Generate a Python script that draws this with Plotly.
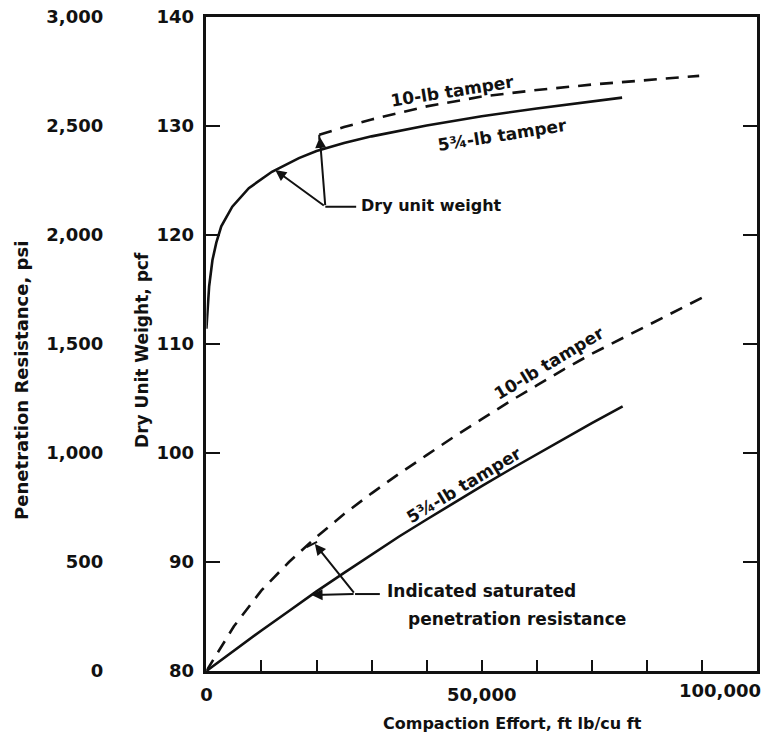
import plotly.graph_objects as go
import numpy as np

# ---- data ----
# Dry unit weight, pcf  (x = compaction effort, ft lb/cu ft)
duw_575_x = [0, 200, 500, 1100, 1800, 2700, 4700, 7700, 11900, 16800, 20000, 25000,
             30000, 40000, 50000, 60000, 70000, 75500]
duw_575_y = [111.4, 113.5, 115.3, 117.7, 119.3, 120.8, 122.6, 124.3, 125.8, 127.05, 127.7, 128.45,
             129.05, 130.05, 130.9, 131.6, 132.25, 132.6]
duw_10_x = [20500, 25000, 30000, 40000, 50000, 60000, 70000, 80000, 89500]
duw_10_y = [129.2, 129.9, 130.6, 131.8, 132.7, 133.3, 133.8, 134.2, 134.6]

# Indicated saturated penetration resistance, psi
pen_575_x = [0, 5000, 10000, 15000, 20000, 25000, 30000, 35000, 40000, 45000, 50000,
             55000, 60000, 65000, 70000, 75600]
pen_575_y = [0, 94, 186, 275, 365, 450, 535, 617, 695, 772, 848, 922, 995, 1067, 1137, 1214]
pen_10_x = [0, 5000, 10000, 15000, 20000, 25000, 30000, 35000, 40000, 45000, 50000,
            55000, 60000, 65000, 70000, 75000, 80000, 85000, 90000]
pen_10_y = [0, 205, 370, 500, 615, 720, 815, 905, 990, 1075, 1155, 1235, 1310, 1385,
            1455, 1520, 1585, 1650, 1712]

x_ticks = list(range(0, 100001, 10000))
x_ticktext = ["0", "", "", "", "", "50,000", "", "", "", "", ""]
x_last_label = "100,000"
pcf_ticks = [80, 90, 100, 110, 120, 130, 140]
psi_ticks = [0, 500, 1000, 1500, 2000, 2500, 3000]

FONT = "DejaVu Sans"
BLK = "#111111"

fig = go.Figure()
fig.add_trace(go.Scatter(x=duw_575_x, y=duw_575_y, mode="lines", yaxis="y",
                         line=dict(color=BLK, width=2.6), name="5 3/4-lb tamper (dry unit weight)"))
fig.add_trace(go.Scatter(x=duw_10_x, y=duw_10_y, mode="lines", yaxis="y",
                         line=dict(color=BLK, width=2.6, dash="13px,9px"), name="10-lb tamper (dry unit weight)"))
fig.add_trace(go.Scatter(x=pen_575_x, y=pen_575_y, mode="lines", yaxis="y2",
                         line=dict(color=BLK, width=2.6), name="5 3/4-lb tamper (penetration)"))
fig.add_trace(go.Scatter(x=pen_10_x, y=pen_10_y, mode="lines", yaxis="y2",
                         line=dict(color=BLK, width=2.6, dash="13px,9px"), name="10-lb tamper (penetration)"))

W, H = 768, 740
ml, mr, mt, mb = 0, 11, 17, 69
pw = W - ml - mr
x0_px = 202
dom0 = x0_px / pw

tickf = dict(size=18, family=FONT, weight="bold")
fig.update_layout(
    width=W, height=H, margin=dict(l=ml, r=mr, t=mt, b=mb),
    paper_bgcolor="white", plot_bgcolor="white", showlegend=False,
    font=dict(family=FONT, color=BLK, size=18, weight="bold"),
    xaxis=dict(domain=[dom0, 1], range=[0, 100000], tickvals=x_ticks, ticktext=x_ticktext,
               ticks="inside", ticklen=11, tickwidth=2, tickcolor=BLK,
               showline=True, linewidth=2.6, linecolor=BLK, mirror=True,
               showgrid=False, zeroline=False, ticklabelstandoff=6, tickfont=tickf),
    yaxis=dict(range=[80, 140], tickvals=pcf_ticks, ticks="inside", ticklen=14, tickwidth=2,
               tickcolor=BLK, showline=True, linewidth=2.6, linecolor=BLK, mirror="ticks",
               showgrid=False, zeroline=False, ticklabelstandoff=6, tickfont=tickf),
    yaxis2=dict(range=[0, 3000], tickvals=psi_ticks, tickformat=",", overlaying="y",
                anchor="free", position=98 / pw, side="left", ticks="", showline=False,
                showgrid=False, zeroline=False, tickfont=tickf),
)

def px_x(px):
    return (px - ml) / pw

def px_y(py):
    return (H - mb - py) / (H - mb - mt)

# last x tick label (kept inside the page, as in the reference)
fig.add_annotation(text=x_last_label, x=x_ticks[-1], xref="x", y=px_y(690), yref="paper",
                   xanchor="right", yanchor="middle", xshift=6, showarrow=False, font=tickf)

# axis titles
fig.add_annotation(text="Compaction Effort, ft lb/cu ft", xref="paper", yref="paper",
                   x=px_x(511), y=px_y(723), xanchor="center", yanchor="middle", showarrow=False,
                   font=dict(size=16, family=FONT, weight="bold"))
fig.add_annotation(text="Penetration Resistance, psi", xref="paper", yref="paper",
                   x=px_x(15), y=px_y(380), xanchor="center", yanchor="middle",
                   showarrow=False, textangle=-90,
                   font=dict(size=18, family=FONT, weight="bold"))
fig.add_annotation(text="Dry Unit Weight, pcf", xref="paper", yref="paper",
                   x=px_x(137), y=px_y(350), xanchor="center", yanchor="middle",
                   showarrow=False, textangle=-90,
                   font=dict(size=17, family=FONT, weight="bold"))

lab = dict(size=17, family=FONT, weight="bold")
# curve labels
fig.add_annotation(text="10-lb tamper", x=44700, y=133.2, xref="x", yref="y",
                   showarrow=False, textangle=-9, font=lab)
fig.add_annotation(text="5¾-lb tamper", x=53700, y=129.2, xref="x", yref="y",
                   showarrow=False, textangle=-9, font=lab)
fig.add_annotation(text="10-lb tamper", x=62300, y=1411, xref="x", yref="y2",
                   showarrow=False, textangle=-31, font=lab)
fig.add_annotation(text="5¾-lb tamper", x=46800, y=852, xref="x", yref="y2",
                   showarrow=False, textangle=-31, font=lab)

# Dry unit weight callout
jx, jy = 21600, 122.6
fig.add_annotation(text="Dry unit weight", x=27700, y=122.7, xref="x", yref="y",
                   xanchor="left", showarrow=False, font=dict(size=16, family=FONT, weight="bold"))
fig.add_shape(type="line", xref="x", yref="y", x0=jx, y0=jy, x1=27200, y1=jy,
              line=dict(color=BLK, width=2))
tip1_x = 12500
tip1_y = float(np.interp(tip1_x, duw_575_x, duw_575_y))
fig.add_annotation(x=tip1_x, y=tip1_y, ax=jx, ay=jy, xref="x", yref="y", axref="x", ayref="y",
                   showarrow=True, arrowhead=2, arrowsize=1.1, arrowwidth=2, arrowcolor=BLK, text="")
fig.add_annotation(x=duw_10_x[0] + 100, y=duw_10_y[0] - 0.2, ax=jx, ay=jy, xref="x", yref="y",
                   axref="x", ayref="y", showarrow=True, arrowhead=2, arrowsize=1.1, arrowwidth=2,
                   arrowcolor=BLK, text="")
fig.add_shape(type="line", xref="x", yref="y", x0=duw_10_x[0], y0=duw_10_y[0],
              x1=duw_10_x[0], y1=duw_10_y[0] - 0.45, line=dict(color=BLK, width=2))

# Penetration callout
kx, ky = 27000, 353
fig.add_annotation(text="Indicated saturated", x=32400, y=366, xref="x", yref="y2",
                   xanchor="left", showarrow=False, font=lab)
fig.add_annotation(text="penetration resistance", x=36200, y=238, xref="x", yref="y2",
                   xanchor="left", showarrow=False, font=lab)
fig.add_shape(type="line", xref="x", yref="y2", x0=kx, y0=ky, x1=31500, y1=ky,
              line=dict(color=BLK, width=2))
tip2_x = 19100
tip2_y = float(np.interp(tip2_x, pen_575_x, pen_575_y))
fig.add_annotation(x=tip2_x, y=tip2_y, ax=kx, ay=ky, xref="x", yref="y2", axref="x", ayref="y2",
                   showarrow=True, arrowhead=2, arrowsize=1.1, arrowwidth=2, arrowcolor=BLK, text="")
tip3_x = 19700
tip3_y = float(np.interp(tip3_x, pen_10_x, pen_10_y)) - 25
fig.add_annotation(x=tip3_x, y=tip3_y, ax=kx, ay=ky, xref="x", yref="y2", axref="x", ayref="y2",
                   showarrow=True, arrowhead=2, arrowsize=1.1, arrowwidth=2, arrowcolor=BLK, text="")
fig.add_shape(type="line", xref="x", yref="y2", x0=18200, y0=568, x1=20100, y1=592,
              line=dict(color=BLK, width=2))

fig.write_html("out.html")
